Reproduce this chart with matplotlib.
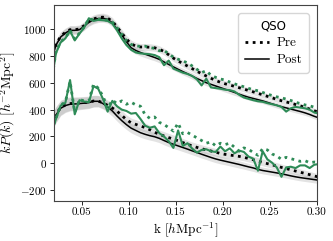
import matplotlib
matplotlib.use('Agg')
import matplotlib.pyplot as plt
import numpy as np

plt.rcParams['font.family'] = 'serif'
plt.rcParams['font.serif'] = ['cmr10']
plt.rcParams['mathtext.fontset'] = 'cm'
plt.rcParams['axes.formatter.use_mathtext'] = True

# bin centres in h/Mpc
k = [0.0175, 0.0225, 0.0275, 0.0325, 0.0375, 0.0425, 0.0475, 0.0525, 0.0575, 0.0625,
     0.0675, 0.0725, 0.0775, 0.0825, 0.0875, 0.0925, 0.0975, 0.1025, 0.1075, 0.1125,
     0.1175, 0.1225, 0.1275, 0.1325, 0.1375, 0.1425, 0.1475, 0.1525, 0.1575, 0.1625,
     0.1675, 0.1725, 0.1775, 0.1825, 0.1875, 0.1925, 0.1975, 0.2025, 0.2075, 0.2125,
     0.2175, 0.2225, 0.2275, 0.2325, 0.2375, 0.2425, 0.2475, 0.2525, 0.2575, 0.2625,
     0.2675, 0.2725, 0.2775, 0.2825, 0.2875, 0.2925, 0.2975, 0.3025]

# mock means (black) - monopole
p0_post = [760, 880, 940, 970, 990, 990, 995, 1020, 1050, 1068,
           1078, 1080, 1072, 1045, 1000, 955, 905, 860, 840, 825,
           812, 800, 788, 774, 755, 736, 718, 700, 683, 667,
           650, 632, 616, 600, 588, 576, 564, 552, 540, 528,
           515, 503, 492, 483, 474, 465, 454, 443, 432, 422,
           413, 404, 395, 386, 376, 364, 350, 338]
p0_pre = [765, 885, 945, 975, 995, 995, 1000, 1025, 1055, 1075,
          1085, 1088, 1080, 1058, 1015, 970, 925, 890, 872, 866,
          866, 864, 860, 850, 832, 808, 783, 762, 743, 724,
          705, 686, 667, 650, 633, 617, 603, 592, 583, 573,
          563, 553, 542, 532, 521, 510, 499, 488, 476, 466,
          457, 448, 438, 428, 416, 404, 391, 380]
err0 = [40, 36, 34, 32, 31, 30, 30, 30, 30, 30,
        30, 30, 29, 28, 28, 28, 27, 27, 27, 26,
        26, 26, 25, 25, 25, 25, 25, 24, 24, 24,
        24, 23, 23, 23, 23, 22, 22, 22, 22, 22,
        21, 21, 21, 21, 21, 20, 20, 20, 20, 20,
        20, 19, 19, 19, 19, 19, 19, 19]

# data (green) - monopole
d0_post = [600, 820, 900, 930, 985, 915, 965, 1010, 1080, 1060,
           1068, 1065, 1060, 1040, 990, 930, 880, 845, 825, 818,
           815, 812, 806, 790, 730, 765, 705, 690, 675, 665,
           650, 625, 580, 630, 565, 560, 555, 548, 545, 535,
           510, 490, 480, 470, 462, 458, 448, 440, 432, 420,
           385, 410, 420, 415, 410, 400, 378, 370]
d0_pre = [600, 830, 905, 935, 990, 925, 970, 1015, 1075, 1068,
          1072, 1070, 1065, 1052, 1010, 960, 912, 885, 875, 870,
          872, 862, 855, 838, 840, 815, 790, 775, 762, 748,
          725, 700, 675, 690, 655, 640, 628, 620, 605, 592,
          580, 570, 558, 548, 540, 528, 515, 505, 495, 488,
          478, 468, 455, 445, 435, 428, 418, 410]

# mock means (black) - quadrupole
p2_post = [290, 360, 410, 430, 440, 442, 445, 448, 452, 462,
           462, 445, 420, 390, 352, 318, 288, 262, 245, 228,
           216, 206, 198, 186, 170, 155, 142, 130, 118, 106,
           93, 81, 68, 56, 44, 33, 24, 16, 8, 0,
           -8, -17, -26, -34, -45, -53, -59, -65, -71, -78,
           -85, -93, -100, -106, -111, -116, -121, -126]
p2_pre = [295, 365, 415, 435, 445, 447, 450, 453, 456, 464,
          464, 450, 432, 412, 388, 358, 325, 302, 290, 278,
          266, 250, 232, 216, 204, 192, 180, 168, 155, 142,
          130, 119, 109, 100, 92, 83, 74, 67, 62, 57,
          52, 45, 36, 27, 17, 7, -2, -11, -20, -30,
          -39, -48, -57, -66, -75, -84, -94, -102]
err2 = [62, 58, 55, 52, 50, 48, 46, 45, 44, 43,
        42, 41, 40, 39, 38, 37, 36, 35, 35, 34,
        34, 33, 33, 32, 32, 31, 31, 30, 30, 30,
        29, 29, 29, 28, 28, 28, 28, 27, 27, 27,
        27, 26, 26, 26, 26, 25, 25, 25, 25, 25,
        24, 24, 24, 24, 24, 24, 24, 24]

# data (green) - quadrupole
d2_post = [230, 330, 430, 450, 620, 365, 470, 460, 455, 575,
           555, 480, 385, 465, 425, 400, 390, 370, 375, 330,
           280, 265, 275, 225, 200, 165, 115, 245, 130, 150,
           110, 80, 100, 105, 90, 85, 125, 90, 112, 75,
           95, 85, 50, 35, -55, 90, 30, 5, -30, -100,
           -30, -25, -35, -15, -15, -35, -10, -5]
d2_pre = [240, 335, 435, 455, 610, 380, 475, 465, 465, 590,
          560, 500, 410, 470, 445, 465, 440, 455, 435, 425,
          360, 335, 345, 305, 290, 265, 240, 300, 220, 230,
          210, 190, 170, 150, 160, 130, 150, 140, 150, 120,
          90, 115, 105, 80, 60, 110, 100, 70, 55, 30,
          45, 35, 25, 15, 20, 5, 10, 5]

green = '#2e8b57'
dots = (0, (1, 1.6))

fig = plt.figure(figsize=(3.33, 2.41), dpi=100)
ax = fig.add_axes([0.161, 0.166, 0.790, 0.813])

kk = np.array(k)
for mean, err in [(p0_pre, err0), (p0_post, err0), (p2_pre, err2), (p2_post, err2)]:
    m = np.array(mean)
    e = np.array(err)
    ax.fill_between(kk, m - e, m + e, color='gray', alpha=0.22, lw=0)

for mean in [p0_pre, p2_pre]:
    ax.plot(k, mean, color='black', ls=dots, lw=2.0)
for mean in [p0_post, p2_post]:
    ax.plot(k, mean, color='black', ls='-', lw=1.1)
for d in [d0_pre, d2_pre]:
    ax.plot(k, d, color=green, ls=dots, lw=2.0)
for d in [d0_post, d2_post]:
    ax.plot(k, d, color=green, ls='-', lw=1.5)

ax.plot([], [], color='black', ls=dots, lw=2.0, label='Pre')
ax.plot([], [], color='black', ls='-', lw=1.1, label='Post')

ax.set_xlim(0.02, 0.30)
ax.set_ylim(-280, 1178)
ax.set_xticks([0.05, 0.10, 0.15, 0.20, 0.25, 0.30])
ax.set_xticklabels(['0.05', '0.10', '0.15', '0.20', '0.25', '0.30'])
ax.set_yticks([-200, 0, 200, 400, 600, 800, 1000])
ax.tick_params(labelsize=8, length=3, width=0.6, pad=2)
for s in ax.spines.values():
    s.set_linewidth(0.8)
    s.set_color('#444444')

ax.set_xlabel(r'k $[h\mathrm{Mpc}^{-1}]$', fontsize=9.5, labelpad=2)
ax.set_ylabel(r'$kP(k)\ [h^{-2}\mathrm{Mpc}^2]$', fontsize=10, labelpad=1)

leg = ax.legend(loc='upper right', title='QSO', fontsize=9.5,
                title_fontproperties={'family': 'DejaVu Sans', 'size': 8.5},
                handlelength=1.8, borderpad=0.5, labelspacing=0.35,
                handletextpad=0.6, borderaxespad=0.6)
leg.get_frame().set_edgecolor('#cccccc')

fig.savefig('out.png', dpi=100)
